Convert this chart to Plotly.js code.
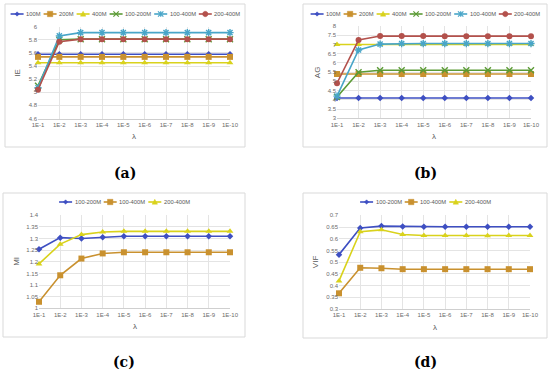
<!DOCTYPE html>
<html><head><meta charset="utf-8">
<script src="https://cdn.plot.ly/plotly-3.0.1.min.js"></script>
<style>html,body{margin:0;padding:0;background:#fff;overflow:hidden}#chart{width:550px;height:373px}</style>
</head><body><div id="chart"></div>
<script>
// ---------- DATA ----------
const lambdas = ['1E-1','1E-2','1E-3','1E-4','1E-5','1E-6','1E-7','1E-8','1E-9','1E-10'];

// (a) IE
const ie100M    = [5.58,5.58,5.58,5.58,5.58,5.58,5.58,5.58,5.58,5.58];
const ie200M    = [5.54,5.54,5.54,5.54,5.54,5.54,5.54,5.54,5.54,5.54];
const ie400M    = [5.45,5.45,5.45,5.45,5.45,5.45,5.45,5.45,5.45,5.45];
const ie100_200M = [5.10,5.80,5.81,5.81,5.81,5.81,5.81,5.81,5.81,5.81];
const ie100_400M = [5.07,5.86,5.91,5.91,5.91,5.91,5.91,5.91,5.91,5.91];
const ie200_400M = [5.04,5.77,5.81,5.81,5.81,5.81,5.81,5.81,5.81,5.81];

// (b) AG
const ag100M    = [4.10,4.10,4.10,4.10,4.10,4.10,4.10,4.10,4.10,4.10];
const ag200M    = [5.40,5.40,5.40,5.40,5.40,5.40,5.40,5.40,5.40,5.40];
const ag400M    = [7.00,7.00,7.00,7.00,7.00,7.00,7.00,7.00,7.00,7.00];
const ag100_200M = [4.15,5.50,5.60,5.60,5.60,5.60,5.60,5.60,5.60,5.60];
const ag100_400M = [4.20,6.70,7.02,7.05,7.05,7.05,7.05,7.05,7.05,7.05];
const ag200_400M = [4.90,7.24,7.46,7.46,7.46,7.45,7.45,7.45,7.45,7.45];

// (c) MI
const mi100_200M = [1.254,1.304,1.300,1.306,1.310,1.310,1.310,1.310,1.310,1.310];
const mi100_400M = [1.028,1.142,1.214,1.236,1.241,1.241,1.241,1.241,1.241,1.241];
const mi200_400M = [1.191,1.276,1.317,1.328,1.331,1.331,1.331,1.331,1.331,1.331];

// (d) VIF
const vif100_200M = [0.532,0.646,0.654,0.652,0.651,0.651,0.651,0.651,0.651,0.651];
const vif100_400M = [0.367,0.476,0.474,0.470,0.470,0.470,0.470,0.470,0.470,0.470];
const vif200_400M = [0.420,0.630,0.638,0.618,0.614,0.614,0.614,0.613,0.614,0.614];

const names6 = ['100M','200M','400M','100-200M','100-400M','200-400M'];
const names3 = ['100-200M','100-400M','200-400M'];

// ---------- STYLE ----------
const W = 550, H = 373;
const fx = p => p / W, fy = p => 1 - p / H;
const C = {blue:'#3E4FC2', orange:'#C9912F', yellow:'#D9D21C', green:'#5C9B36', teal:'#48A5C8', red:'#B3514C'};
const sty6 = [
  {c:C.blue, s:'diamond', z:5},
  {c:C.orange, s:'square', z:6},
  {c:C.yellow, s:'triangle-up', z:6},
  {c:C.green, s:'x-thin-open', z:6},
  {c:C.teal, s:'asterisk-open', z:6},
  {c:C.red, s:'circle', z:6}
];
const sty3 = [sty6[0], sty6[1], sty6[2]];

const panels = [
  {xa:'x', ya:'y', title:'IE', cap:'(a)', box:[5,4,245,147], px:[38,230], py:[26.7,118.5], yr:[4.6,6], dt:0.2,
   series:[ie100M,ie200M,ie400M,ie100_200M,ie100_400M,ie200_400M], names:names6, sty:sty6, legY:14, capY:173, titleX:18},
  {xa:'x2', ya:'y2', title:'AG', cap:'(b)', box:[303,4,547,147], px:[337,531], py:[26,118.3], yr:[3,8], dt:0.5,
   series:[ag100M,ag200M,ag400M,ag100_200M,ag100_400M,ag200_400M], names:names6, sty:sty6, legY:14, capY:173, titleX:317},
  {xa:'x3', ya:'y3', title:'MI', cap:'(c)', box:[3,193,245,337], px:[39,230], py:[215.3,308.3], yr:[1,1.4], dt:0.05,
   series:[mi100_200M,mi100_400M,mi200_400M], names:names3, sty:sty3, legY:202, capY:362, titleX:17},
  {xa:'x4', ya:'y4', title:'VIF', cap:'(d)', box:[303,193,547,338], px:[339,530], py:[215.3,309], yr:[0.3,0.7], dt:0.05,
   series:[vif100_200M,vif100_400M,vif200_400M], names:names3, sty:sty3, legY:202, capY:362, titleX:315}
];

const data = [], shapes = [], annotations = [];
const layout = {
  width:W, height:H, margin:{l:0,r:0,t:0,b:0}, paper_bgcolor:'#fff', plot_bgcolor:'rgba(0,0,0,0)',
  showlegend:false, font:{family:'"Liberation Sans", Arial, sans-serif', color:'#595959'}
};

const cvs = document.createElement('canvas').getContext('2d');
const LFS = 5.8;
cvs.font = LFS + 'px "Liberation Sans"';

function markerPath(sym, cx, cy, r) {
  const P = (x, y) => fx(cx + x) + ',' + fy(cy + y);
  switch (sym) {
    case 'diamond': return 'M' + P(0,-r) + 'L' + P(r,0) + 'L' + P(0,r) + 'L' + P(-r,0) + 'Z';
    case 'square': return 'M' + P(-r,-r) + 'L' + P(r,-r) + 'L' + P(r,r) + 'L' + P(-r,r) + 'Z';
    case 'triangle-up': return 'M' + P(0,-r) + 'L' + P(r,r*0.8) + 'L' + P(-r,r*0.8) + 'Z';
    case 'x-thin-open': return 'M' + P(-r,-r) + 'L' + P(r,r) + 'M' + P(r,-r) + 'L' + P(-r,r);
    case 'asterisk-open': return 'M' + P(-r,-r) + 'L' + P(r,r) + 'M' + P(r,-r) + 'L' + P(-r,r) + 'M' + P(0,-r) + 'L' + P(0,r);
    default: {
      // circle approximated by polygon
      let d = '';
      for (let i = 0; i < 16; i++) {
        const a = i / 16 * Math.PI * 2;
        d += (i ? 'L' : 'M') + P(r * Math.cos(a), r * Math.sin(a));
      }
      return d + 'Z';
    }
  }
}

panels.forEach((p, k) => {
  const n = k === 0 ? '' : String(k + 1);
  // panel frame
  shapes.push({type:'rect', xref:'paper', yref:'paper', x0:fx(p.box[0]), x1:fx(p.box[2]), y0:fy(p.box[3]), y1:fy(p.box[1]),
    line:{color:'#D9D9D9', width:1}, fillcolor:'rgba(0,0,0,0)', layer:'below'});
  layout['xaxis' + n] = {
    domain:[fx(p.px[0]), fx(p.px[1])], anchor:p.ya, type:'category', range:[0, lambdas.length - 1],
    showgrid:true, gridcolor:'#E4E4E4', gridwidth:1, showline:true, linecolor:'#CFCFCF', linewidth:1,
    ticks:'', tickfont:{size:6, color:'#6B6B6B'}, zeroline:false, fixedrange:true
  };
  const eps = p.dt * 0.001;
  layout['yaxis' + n] = {
    domain:[fy(p.py[1]), fy(p.py[0])], anchor:p.xa, range:[p.yr[0] - eps, p.yr[1] + eps], dtick:p.dt, tick0:p.yr[0],
    showgrid:true, gridcolor:'#E4E4E4', gridwidth:1, showline:false, zeroline:false,
    ticks:'', tickfont:{size:6, color:'#6B6B6B'}, fixedrange:true
  };
  p.series.forEach((vals, i) => {
    const st = p.sty[i];
    const open = st.s.indexOf('open') >= 0;
    data.push({
      x:lambdas, y:vals, xaxis:p.xa, yaxis:p.ya, name:p.names[i], type:'scatter', mode:'lines+markers',
      line:{color:st.c, width:1.6}, cliponaxis:false,
      marker:{symbol:st.s, size:st.z, color:st.c, line:{color:st.c, width:open ? 1.4 : 0}}
    });
  });
  // axis titles
  const cx = (p.px[0] + p.px[1]) / 2, cy = (p.py[0] + p.py[1]) / 2;
  annotations.push({xref:'paper', yref:'paper', x:fx(p.titleX), y:fy(cy), text:p.title, showarrow:false, textangle:-90,
    xanchor:'center', yanchor:'middle', font:{size:8, color:'#595959'}});
  annotations.push({xref:'paper', yref:'paper', x:fx(cx), y:fy(p.py[1] + 18), text:'λ', showarrow:false,
    xanchor:'center', yanchor:'middle', font:{size:8, color:'#595959'}});
  // caption
  annotations.push({xref:'paper', yref:'paper', x:fx((p.box[0] + p.box[2]) / 2), y:fy(p.capY), text:'<b>' + p.cap + '</b>', showarrow:false,
    xanchor:'center', yanchor:'middle', font:{size:14, color:'#000', family:'"DejaVu Serif", "Liberation Serif", serif'}});
  // legend (one row, centered in frame)
  const SYM = 13, GAP1 = 1.5, GAP2 = 4;
  const widths = p.names.map(t => cvs.measureText(t).width);
  const total = widths.reduce((a, b) => a + b, 0) + p.names.length * (SYM + GAP1) + (p.names.length - 1) * GAP2;
  let x = (p.box[0] + p.box[2]) / 2 - total / 2;
  p.names.forEach((t, i) => {
    const st = p.sty[i];
    shapes.push({type:'line', xref:'paper', yref:'paper', x0:fx(x), x1:fx(x + SYM), y0:fy(p.legY), y1:fy(p.legY), line:{color:st.c, width:1.6}});
    const open = st.s.indexOf('open') >= 0;
    shapes.push({type:'path', xref:'paper', yref:'paper', path:markerPath(st.s, x + SYM / 2, p.legY, st.z / 2 - 0.3),
      line:{color:st.c, width:open ? 1.2 : 0.5}, fillcolor:open ? 'rgba(0,0,0,0)' : st.c});
    annotations.push({xref:'paper', yref:'paper', x:fx(x + SYM + GAP1), y:fy(p.legY), text:t, showarrow:false,
      xanchor:'left', yanchor:'middle', xshift:-1, font:{size:LFS, color:'#595959'}});
    x += SYM + GAP1 + widths[i] + GAP2;
  });
});

layout.shapes = shapes;
layout.annotations = annotations;
Plotly.newPlot('chart', data, layout, {staticPlot:true, displayModeBar:false});
</script></body></html>
